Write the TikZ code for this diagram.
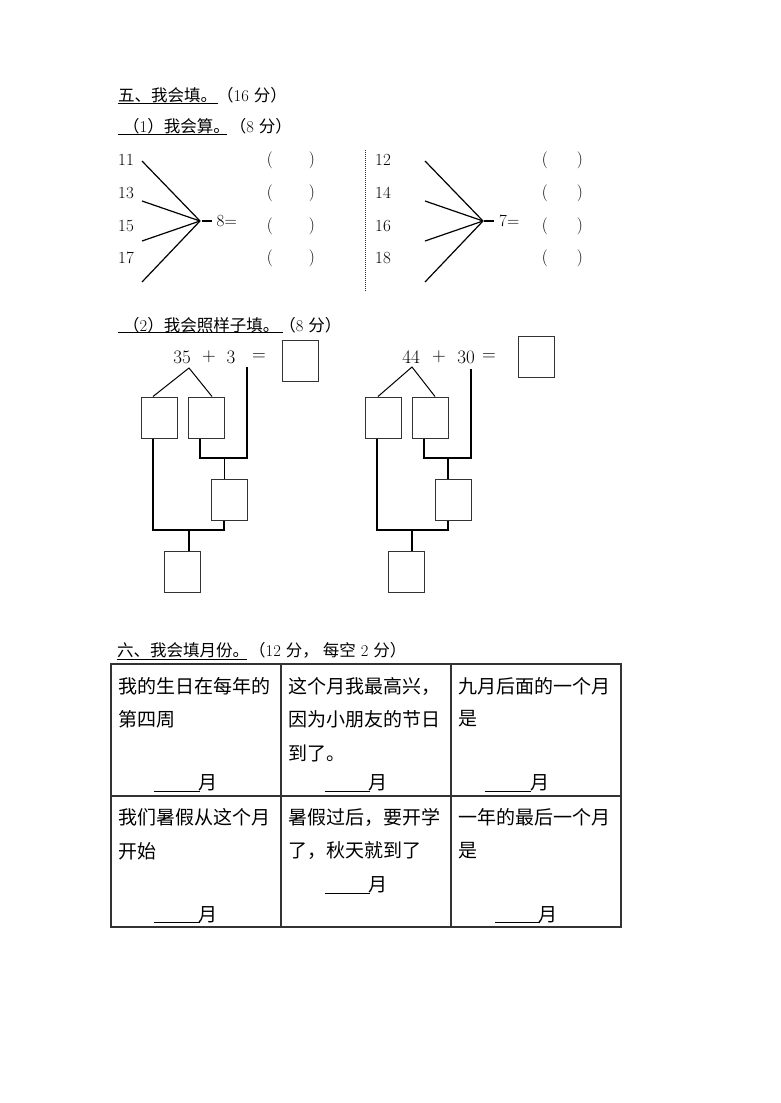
\documentclass[tikz,border=0pt]{standalone}
\usepackage{fontspec}
\newfontfamily\cjk{Noto Sans CJK SC}
\begin{document}
\begin{tikzpicture}[x=1pt,y=-1pt]
\tikzstyle{every node}=[inner sep=0pt, font=\fontsize{17}{17}\selectfont]
\tikzstyle{head}=[anchor=west, font=\fontsize{16.5}{16.5}\selectfont]
\tikzstyle{num}=[font=\fontsize{19}{19}\selectfont]
\tikzstyle{cell}=[anchor=west, font=\fontsize{19}{19}\selectfont\cjk]
\tikzstyle{box}=[draw=black!80, line width=1pt, minimum width=36pt, minimum height=41pt]
\tikzstyle{heavy}=[line width=2pt]
\tikzstyle{fan}=[line width=1.2pt]
	\fill[white] (0,0) rectangle (780,1103);
	\useasboundingbox (0,0) rectangle (780,1103);
	% five
	\node[head] (h5) at (118,95) {{\cjk 五、我会填。（}16 {\cjk 分）}};
	\draw[line width=0.8pt] (118,103) -- (218,103);
	\node[head] (h51) at (123,126) {{\cjk （}1{\cjk ）我会算。（}8 {\cjk 分）}};
	\draw[line width=0.8pt] (118,134) -- (227,134);
	% left fan
	\node[anchor=west] (a1) at (118,160) {11};
	\node[anchor=west] (a2) at (118,193) {13};
	\node[anchor=west] (a3) at (118,226) {15};
	\node[anchor=west] (a4) at (118,258) {17};
	\coordinate (hubL) at (200,221);
	\draw[fan] (142,161) -- (hubL);
	\draw[fan] (142,201) -- (hubL);
	\draw[fan] (142,241) -- (hubL);
	\draw[fan] (142,282) -- (hubL);
	\draw[line width=1.5pt] (202,221) -- (212,221);
	\node[anchor=west] (opL) at (216.5,221) {8=};
	\foreach \y in {160,193,226,258}
		\node (pL\y) at (291,\y) {(\hspace{36pt})};
	\draw[line width=1pt, black!85, dash pattern=on 1pt off 1pt] (365,150) -- (365,292);
	% right fan
	\node[anchor=west] (b1) at (375,160) {12};
	\node[anchor=west] (b2) at (375,193) {14};
	\node[anchor=west] (b3) at (375,226) {16};
	\node[anchor=west] (b4) at (375,258) {18};
	\coordinate (hubR) at (483,221);
	\draw[fan] (425,161) -- (hubR);
	\draw[fan] (425,201) -- (hubR);
	\draw[fan] (425,241) -- (hubR);
	\draw[fan] (425,282) -- (hubR);
	\draw[line width=1.5pt] (484,221) -- (494,221);
	\node[anchor=west] (opR) at (499,221) {7=};
	\foreach \y in {160,193,226,258}
		\node (pR\y) at (562.5,\y) {(\hspace{29pt})};
	% two
	\node[head] (h52) at (123,325) {{\cjk （}2{\cjk ）我会照样子填。（}8 {\cjk 分）}};
	\draw[line width=0.8pt] (118,332) -- (283,332);
	% left tree
	\node[num] (n35) at (182,357) {35};
	\node[num] (pl1) at (209,357) {+};
	\node[num] (n3) at (231,357) {3};
	\node[num] (eq1) at (259,357) {=};
	\node[box] (sumL) at (300,360.5) {};
	\node[box] (bA) at (159,417.5) {};
	\node[box] (bB) at (206,417.5) {};
	\node[box] (bC) at (229.5,499.5) {};
	\node[box] (bD) at (182.5,571.5) {};
	\coordinate (apL) at (189,368);
	\coordinate (t3) at (247,367);
	\draw[line width=1pt] ([xshift=-6pt]bA.north) -- (apL) -- ([xshift=6pt]bB.north);
	\draw[heavy] ([xshift=-6pt]bB.south) |- (247,458) -- (t3);
	\draw[line width=1pt] ([xshift=-5.5pt]bC.north) -- ++(0,-21);
	\draw[heavy] ([xshift=-6pt]bA.south) |- (224,530) -- ([xshift=-5.5pt]bC.south);
	\draw[heavy] (189,530) -- ([xshift=6.5pt]bD.north);
	% right tree
	\node[num] (n44) at (411,357) {44};
	\node[num] (pl2) at (439,357) {+};
	\node[num] (n30) at (466,357) {30};
	\node[num] (eq2) at (489,357) {=};
	\node[box] (sumR) at (536,356.5) {};
	\node[box] (bE) at (383,417.5) {};
	\node[box] (bF) at (430,417.5) {};
	\node[box] (bG) at (453.5,499.5) {};
	\node[box] (bH) at (406,571.5) {};
	\coordinate (apR) at (412,367);
	\coordinate (t30) at (471,369);
	\draw[line width=1pt] ([xshift=-5pt]bE.north) -- (apR) -- ([xshift=5pt]bF.north);
	\draw[line width=1.2pt] ([xshift=-6pt]bF.south) |- (471,458) -- (t30);
	\draw[line width=1.2pt] ([xshift=-5.5pt]bG.north) -- ++(0,-21);
	\draw[line width=1.2pt] ([xshift=-6pt]bE.south) |- (448,530) -- ([xshift=-5.5pt]bG.south);
	\draw[line width=1.2pt] (412,530) -- ([xshift=6pt]bH.north);
	% six
	\node[head] (h6) at (117,650) {{\cjk 六、我会填月份。（}12\hspace{5pt}{\cjk 分，\hspace{4pt}每空}\hspace{5pt}2\hspace{5pt}{\cjk 分）}};
	\draw[line width=0.8pt] (117,659) -- (247,659);
	\draw[line width=1.2pt, black!80] (111,664) rectangle (621,927);
	\draw[line width=1.2pt, black!80] (111,796) -- (621,796);
	\draw[line width=1.2pt, black!80] (281,664) -- (281,927);
	\draw[line width=1.2pt, black!80] (451,664) -- (451,927);
	% cell texts
	\node[cell] (c11) at (118,686) {我的生日在每年的};
	\node[cell] (c12) at (118,719) {第四周};
	\node[cell] (c21) at (288,686) {这个月我最高兴，};
	\node[cell] (c22) at (288,719) {因为小朋友的节日};
	\node[cell] (c23) at (288,753) {到了。};
	\node[cell] (c31) at (458,686) {九月后面的一个月};
	\node[cell] (c32) at (458,719) {是};
	\node[cell] (c41) at (118,817) {我们暑假从这个月};
	\node[cell] (c42) at (118,851) {开始};
	\node[cell] (c51) at (288,817) {暑假过后，要开学};
	\node[cell] (c52) at (288,851) {了，秋天就到了};
	\node[cell] (c61) at (458,817) {一年的最后一个月};
	\node[cell] (c62) at (458,851) {是};
	% blanks
	\draw[line width=1pt] (154,791) -- (200,791);
	\node[cell, anchor=center] (m1) at (208,783) {月};
	\draw[line width=1pt] (325,791) -- (370,791);
	\node[cell, anchor=center] (m2) at (378,783) {月};
	\draw[line width=1pt] (485,791) -- (531,791);
	\node[cell, anchor=center] (m3) at (540,783) {月};
	\draw[line width=1pt] (154,922) -- (200,922);
	\node[cell, anchor=center] (m4) at (208,915) {月};
	\draw[line width=1pt] (325,893) -- (370,893);
	\node[cell, anchor=center] (m5) at (378,885) {月};
	\draw[line width=1pt] (495,922) -- (540,922);
	\node[cell, anchor=center] (m6) at (548,915) {月};
\end{tikzpicture}
\end{document}
